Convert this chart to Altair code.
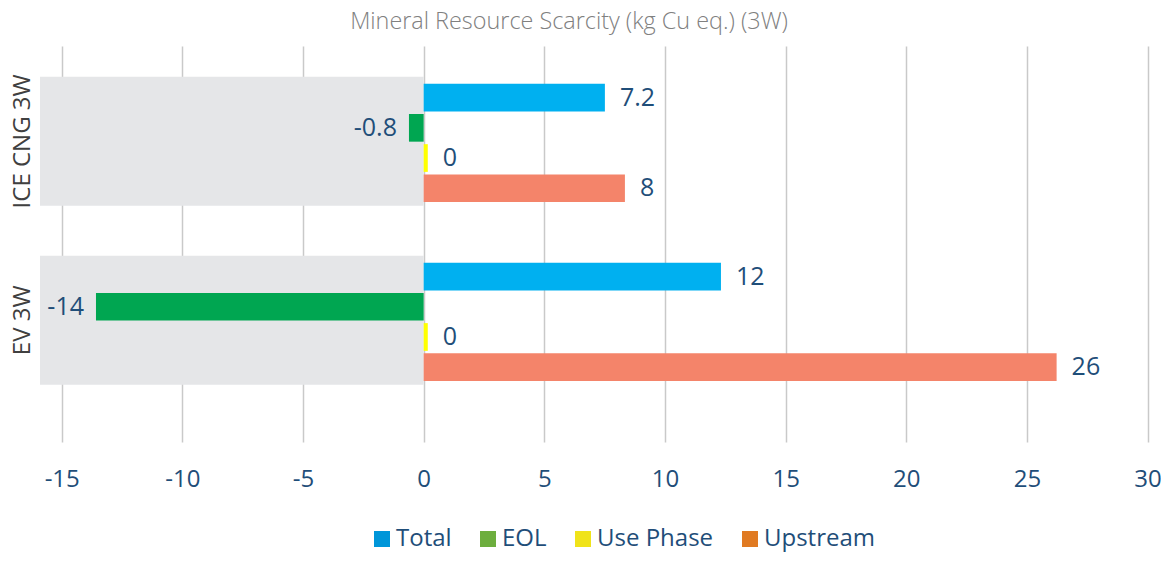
import altair as alt
import pandas as pd

categories = ["ICE CNG 3W", "EV 3W"]
series = ["Total", "EOL", "Use Phase", "Upstream"]
ice_values = [7.51, -0.61, 0.17, 8.34]
ev_values = [12.32, -13.58, 0.17, 26.23]
ice_labels = ["7.2", "-0.8", "0", "8"]
ev_labels = ["12", "-14", "0", "26"]
band_start = [-15.9, -15.9]
band_end = [0, 0]
x_ticks = [-15, -10, -5, 0, 5, 10, 15, 20, 25, 30]

bar_colors = ["#00B0F0", "#00A651", "#FFFF00", "#F4846A"]
legend_colors = ["#0096D9", "#6DAE3E", "#F0E31A", "#E07A22"]

rows = []
for cat, vals, labs in [(categories[0], ice_values, ice_labels),
                        (categories[1], ev_values, ev_labels)]:
    for s, v, l in zip(series, vals, labs):
        rows.append({"category": cat, "series": s, "value": v, "label": l})
df = pd.DataFrame(rows)
bg = pd.DataFrame({"category": categories, "start": band_start, "end": band_end})

BLUE_TXT = "#1F4E79"
FONT = "Open Sans"

x_scale = alt.Scale(domain=[-15.9, 30.1], nice=False, zero=False)
y_scale = alt.Scale(domain=categories, paddingInner=0.279, paddingOuter=0.246, align=0.35)
yoff_scale = alt.Scale(domain=series, paddingInner=0.083, paddingOuter=0.177, align=0.65)

x_axis = alt.Axis(values=x_ticks, title=None, labelFontSize=24, labelColor=BLUE_TXT,
                  labelFont=FONT, ticks=False, domain=False, grid=True,
                  gridColor="#C9C9C9", gridWidth=1.5, labelPadding=25,
                  labelFlush=False, labelExpr="'' + datum.value")
y_axis = alt.Axis(title=None, labelAngle=-90, labelFontSize=24, labelColor="#404040",
                  labelFont=FONT, ticks=False, domain=False, grid=False, labelPadding=6)


def xq(field):
    return alt.X(field, scale=x_scale, axis=x_axis)


def yc():
    return alt.Y("category:N", scale=y_scale, sort=categories, axis=y_axis)


def yo():
    return alt.YOffset("series:N", scale=yoff_scale, sort=series)


bg_layer = alt.Chart(bg).mark_rect(color="#E5E6E8").encode(
    x=xq("start:Q"), x2="end:Q", y=yc()
)

bar_layers = []
for s, c in zip(series, bar_colors):
    bar_layers.append(
        alt.Chart(df).transform_filter(alt.datum.series == s).mark_bar(color=c).encode(
            x=xq("value:Q"), x2=alt.datum(0), y=yc(), yOffset=yo()
        )
    )

pos_labels = alt.Chart(df).transform_filter("datum.value >= 0").mark_text(
    align="left", baseline="middle", dx=15, fontSize=25, font=FONT, color=BLUE_TXT
).encode(x=xq("value:Q"), y=yc(), yOffset=yo(), text="label:N")

neg_labels = alt.Chart(df).transform_filter("datum.value < 0").mark_text(
    align="right", baseline="middle", dx=-12, fontSize=25, font=FONT, color=BLUE_TXT
).encode(x=xq("value:Q"), y=yc(), yOffset=yo(), text="label:N")

legend_layer = alt.Chart(df).mark_square(size=1).encode(
    x=xq("value:Q"), y=yc(),
    opacity=alt.value(0),
    color=alt.Color("series:N", scale=alt.Scale(domain=series, range=legend_colors),
                    sort=series,
                    legend=alt.Legend(title=None, orient="none", legendX=330, legendY=481,
                                      direction="horizontal", labelFontSize=24,
                                      labelColor=BLUE_TXT, labelFont=FONT,
                                      symbolType="square", symbolSize=256,
                                      symbolOpacity=1, symbolStrokeWidth=0,
                                      labelOffset=2, columnPadding=24)),
)

chart = alt.layer(bg_layer, *bar_layers, pos_labels, neg_labels, legend_layer).properties(
    width=1110,
    height=396,
    autosize=alt.AutoSizeParams(type="none"),
    padding={"left": 32, "top": 38, "right": 11, "bottom": 111},
    title=alt.TitleParams("Mineral Resource Scarcity (kg Cu eq.) (3W)", fontSize=23.4,
                          fontWeight=300, color="#808080", font=FONT,
                          anchor="middle", dx=-26, offset=12),
).configure_view(stroke=None)

chart.save("out.html", embed_options={"renderer": "svg", "actions": False})
